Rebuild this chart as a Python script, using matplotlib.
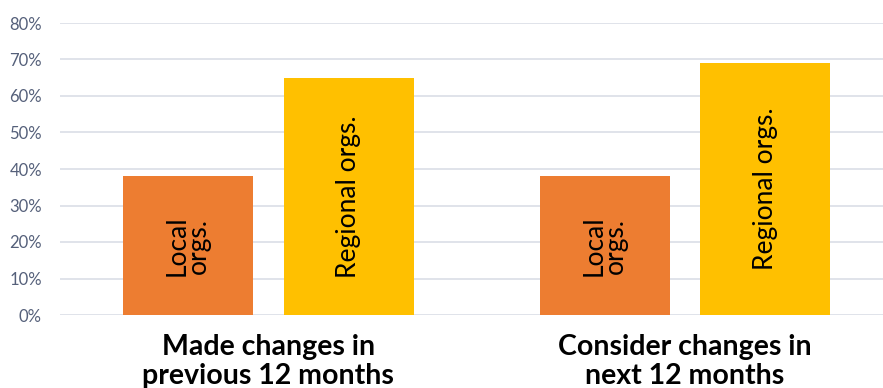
import matplotlib

matplotlib.use("Agg")
import matplotlib.pyplot as plt
import numpy as np

groups = ["Made changes in\nprevious 12 months", "Consider changes in\nnext 12 months"]
series = ["Local\norgs.", "Regional orgs."]
local_vals = [38, 38]
regional_vals = [65, 69]
yticks = [0, 10, 20, 30, 40, 50, 60, 70, 80]

_ORANGE = "#ED7D31"
_YELLOW = "#FFC000"
_GRID = "#DDE1E8"
_TICK = "#55607A"

plt.rcParams["font.family"] = ["Lato", "DejaVu Sans"]

fig = plt.figure(figsize=(8.83, 3.88), dpi=100)
ax = fig.add_axes([60 / 883, 73 / 388, 823 / 883, 292 / 388])

x = np.arange(len(groups))
w = 0.312
off = 0.193
b1 = ax.bar(x - off, local_vals, w, color=_ORANGE, zorder=2)
b2 = ax.bar(x + off, regional_vals, w, color=_YELLOW, zorder=2)

for bars, lab in ((b1, series[0]), (b2, series[1])):
    for r in bars:
        ax.text(r.get_x() + r.get_width() / 2, r.get_height() / 2, lab,
                rotation=90, ha="center", va="center", fontsize=19,
                color="black", linespacing=0.8, zorder=3)

ax.set_ylim(0, 80)
ax.set_xlim(-0.5, 1.475)
ax.set_yticks(yticks)
ax.set_yticklabels([f"{t}%" for t in yticks])
ax.yaxis.grid(True, color=_GRID, linewidth=1.3, zorder=0)
ax.set_axisbelow(True)
ax.tick_params(axis="y", length=0, pad=13, labelsize=12, labelcolor=_TICK)
ax.set_xticks(x)
ax.set_xticklabels(groups, fontsize=20.5, fontweight="bold", linespacing=1.1)
ax.tick_params(axis="x", length=0, pad=14)
for s in ax.spines.values():
    s.set_visible(False)

fig.savefig("out.png", dpi=100, facecolor="white")
